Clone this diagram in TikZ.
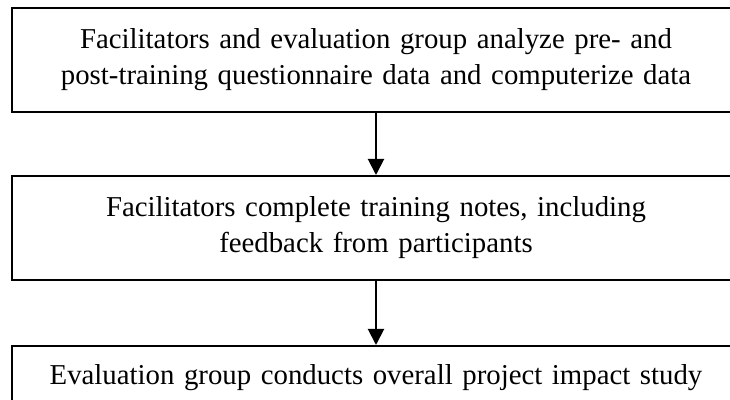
\documentclass[tikz,border=0pt]{standalone}
\usepackage{fontspec}
\setmainfont{Liberation Serif}
\usetikzlibrary{positioning,arrows.meta}

\tikzset{
  stagebox/.style={draw, line width=1pt, text width=352pt, minimum height=52pt,
    inner sep=6pt, align=center, font=\fontsize{14.4pt}{18pt}\selectfont},
  flow/.style={line width=1pt, -{Triangle[width=8pt,length=8pt]}}
}

\begin{document}
\begin{tikzpicture}
\clip (0pt,0pt) rectangle (365pt,-200pt);

\node[stagebox] (analyze) at (188pt,-30pt)
  {Facilitators and evaluation group analyze pre- and\\post-training questionnaire data and computerize data};
\node[stagebox, below=31pt of analyze] (notes)
  {Facilitators complete training notes, including\\feedback from participants};
\node[stagebox, below=32pt of notes] (impact)
  {Evaluation group conducts overall project impact study\\\strut};

\draw[flow] (analyze) -- (notes);
\draw[flow] (notes) -- (impact);
\end{tikzpicture}
\end{document}
